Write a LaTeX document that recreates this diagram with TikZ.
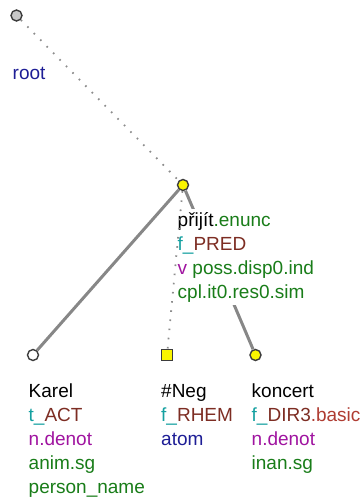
\documentclass[tikz,border=0pt]{standalone}
\usepackage{fontspec}
\setmainfont{Liberation Sans}
\definecolor{cteal}{RGB}{20,160,160}
\definecolor{cbrown}{RGB}{125,45,35}
\definecolor{cred}{RGB}{175,60,50}
\definecolor{cmag}{RGB}{160,20,160}
\definecolor{cgreen}{RGB}{25,125,25}
\definecolor{cblue}{RGB}{30,30,150}
\definecolor{cedge}{RGB}{135,135,135}
\definecolor{cdot}{RGB}{140,140,140}
\definecolor{cbord}{RGB}{60,60,60}
\definecolor{cyel}{RGB}{250,245,0}
\tikzset{
  tnode/.style={circle,draw=cbord,line width=1.4pt,minimum size=11pt,inner sep=0pt},
  sqnode/.style={rectangle,draw=cbord,line width=1.2pt,minimum size=10.5pt,inner sep=0pt,fill=cyel},
  thickedge/.style={draw=cedge,line width=3pt},
  dotedge/.style={draw=cdot,line width=1.8pt,dash pattern=on 1.6pt off 7.6pt},
  lbl/.style={anchor=base west,inner sep=0pt,fill=white,font=\fontsize{19}{24}\selectfont},
}
\renewcommand{\arraystretch}{1}
\newcommand{\lines}[1]{\begin{tabular}[t]{@{}l@{}}#1\end{tabular}}
\begin{document}
\begin{tikzpicture}[x=1pt,y=-1pt]
\useasboundingbox (0,0) rectangle (362,500);
% nodes
\node[tnode,fill=black!22] (root) at (16.5,15.5) {};
\node[tnode,fill=cyel] (pred) at (183,185) {};
\node[tnode,fill=white] (karel) at (33,355) {};
\node[sqnode] (neg) at (167,355) {};
\node[tnode,fill=cyel] (konc) at (255.5,355) {};
% solid edges
\draw[thickedge] (pred) -- (karel);
\draw[thickedge] (pred) -- (konc);
% labels
\node[lbl] (rootl) at (12.5,80) {\color{cblue}root};
\node[lbl] (predl) at (177.5,226) {\lines{přijít\color{cgreen}.enunc\\
  {\color{cteal}f\_}{\color{cbrown}PRED}\\
  {\color{cmag}v} {\color{cgreen}poss.disp0.ind}\\
  {\color{cgreen}cpl.it0.res0.sim}}};
\node[lbl] (karell) at (28.5,397) {\lines{Karel\\
  {\color{cteal}t\_}{\color{cbrown}ACT}\\
  {\color{cmag}n.denot}\\
  {\color{cgreen}anim.sg}\\
  {\color{cgreen}person\_name}}};
\node[lbl] (negl) at (161,397) {\lines{\#Neg\\
  {\color{cteal}f\_}{\color{cbrown}RHEM}\\
  {\color{cblue}atom}}};
\node[lbl] (koncl) at (251.5,397) {\lines{koncert\\
  {\color{cteal}f\_}{\color{cbrown}DIR3}{\color{cred}.basic}\\
  {\color{cmag}n.denot}\\
  {\color{cgreen}inan.sg}}};
% dotted edges
\draw[dotedge] (root) -- (pred);
\draw[dotedge] (pred) -- (neg);
\end{tikzpicture}
\end{document}
